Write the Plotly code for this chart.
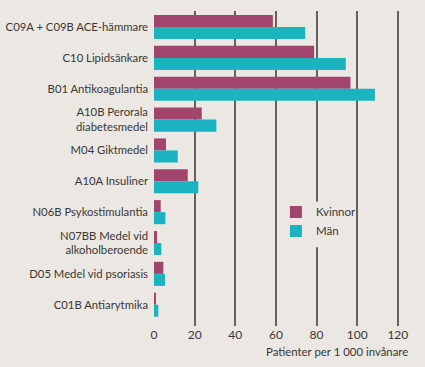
import plotly.graph_objects as go

categories = [
    "C09A + C09B ACE-hämmare",
    "C10 Lipidsänkare",
    "B01 Antikoagulantia",
    "A10B Perorala<br>diabetesmedel",
    "M04 Giktmedel",
    "A10A Insuliner",
    "N06B Psykostimulantia",
    "N07BB Medel vid<br>alkoholberoende",
    "D05 Medel vid psoriasis",
    "C01B Antiarytmika",
]
kvinnor = [58.5, 78.8, 96.7, 23.5, 5.9, 16.6, 3.3, 1.5, 4.6, 1.0]
man = [74.4, 94.4, 108.7, 30.7, 11.7, 21.8, 5.6, 3.6, 5.4, 2.1]
tick_vals = [0, 20, 40, 60, 80, 100, 120]
tick_text = ["0", "20", "40", "60", "80", "100", "120"]

BG = "#ebe7e2"
TXT = "#3a3836"
GRID = "#66615c"
FONT = "Lato"

fig = go.Figure()
fig.add_trace(go.Bar(y=categories, x=kvinnor, name="Kvinnor", orientation="h",
                     marker=dict(color="#a2456c", line=dict(width=0))))
fig.add_trace(go.Bar(y=categories, x=man, name="Män", orientation="h",
                     marker=dict(color="#1bb3bf", line=dict(width=0))))

fig.update_layout(
    width=425, height=367,
    paper_bgcolor=BG, plot_bgcolor=BG,
    margin=dict(l=154, r=17, t=11, b=41, autoexpand=False),
    barmode="group", bargap=0.22, bargroupgap=0,
    font=dict(family=FONT, size=11.3, color=TXT),
    showlegend=True,
    legend=dict(x=0.48, y=0.408, xanchor="left", yanchor="top",
                bgcolor="rgba(0,0,0,0)", font=dict(size=11.5, color=TXT),
                traceorder="normal", itemwidth=30, tracegroupgap=0),
    xaxis=dict(range=[0, 125], tickvals=tick_vals, ticktext=tick_text,
               showgrid=True, gridcolor=GRID, gridwidth=1.5,
               zeroline=True, zerolinecolor=BG, zerolinewidth=2,
               showline=False, ticks="", automargin=False,
               tickfont=dict(size=12, color=TXT)),
    yaxis=dict(type="category", range=[9.69, -0.52], showgrid=False,
               ticks="", showline=False, zeroline=False, automargin=False,
               tickfont=dict(size=11.3, color=TXT), ticklabelstandoff=5),
    shapes=[dict(type="rect", xref="x", yref="paper", x0=77, x1=83,
                 y0=0.25, y1=0.395, fillcolor=BG, line=dict(width=0),
                 layer="above")],
    annotations=[dict(text="Patienter per 1 000 invånare", xref="paper", yref="paper",
                      x=1.008, y=-0.082, xanchor="right", yanchor="middle",
                      showarrow=False, font=dict(size=11.4, color=TXT))],
)
fig.write_html("out.html", config={"displayModeBar": False},
               post_script="document.body.style.margin='0';document.body.style.background='" + BG + "';")
